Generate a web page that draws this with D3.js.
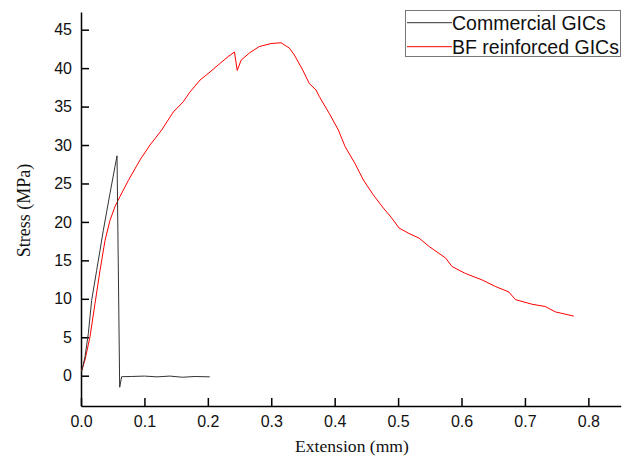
<!DOCTYPE html>
<html>
<head>
<meta charset="utf-8">
<script src="https://cdn.jsdelivr.net/npm/d3@7"></script>
<style>
  html, body { margin: 0; padding: 0; background: #fff; }
  svg { display: block; }
</style>
</head>
<body>
<svg id="chart" width="629" height="468"></svg>
<script>
// ---- data ----
const commercialX = [0.001, 0.0063, 0.0116, 0.0168, 0.0247, 0.0352, 0.0457, 0.0536, 0.0568, 0.061, 0.0641, 0.08, 0.10, 0.12, 0.14, 0.16, 0.18, 0.203];
const commercialY = [0.52, 2.47, 5.5, 9.8, 13.7, 18.9, 23.7, 27.2, 28.6, -1.5, -0.13, -0.1, -0.05, -0.15, -0.05, -0.2, -0.1, -0.15];

const bfX = [0.001, 0.0063, 0.0142, 0.0221, 0.030, 0.0379, 0.0457, 0.0536, 0.0615, 0.0747, 0.093, 0.1088, 0.1272, 0.1456, 0.161, 0.1719, 0.1877, 0.2035, 0.219, 0.232, 0.242, 0.2463, 0.2526, 0.266, 0.281, 0.2998, 0.3155, 0.3286, 0.3365, 0.3496, 0.360, 0.3706, 0.3758, 0.3915, 0.4058, 0.4164, 0.432, 0.4453, 0.461, 0.4768, 0.49, 0.5016, 0.517, 0.533, 0.549, 0.575, 0.585, 0.606, 0.6326, 0.6536, 0.6745, 0.685, 0.711, 0.732, 0.748, 0.777];
const bfY = [0.65, 2.04, 5.07, 9.4, 13.7, 17.6, 20.2, 22.0, 23.3, 25.4, 28.05, 30.0, 31.95, 34.3, 35.6, 36.9, 38.45, 39.5, 40.6, 41.5, 42.1, 39.7, 41.05, 42.0, 42.8, 43.2, 43.3, 42.6, 41.7, 39.75, 38.0, 37.15, 36.3, 34.1, 31.95, 29.8, 27.6, 25.45, 23.5, 21.8, 20.5, 19.2, 18.5, 17.9, 16.8, 15.3, 14.2, 13.3, 12.45, 11.6, 10.9, 9.9, 9.3, 9.0, 8.3, 7.75];

const xTicks = [0, 0.1, 0.2, 0.3, 0.4, 0.5, 0.6, 0.7, 0.8];
const yTicks = [0, 5, 10, 15, 20, 25, 30, 35, 40, 45];
const seriesNames = ["Commercial GICs", "BF reinforced GICs"];
const seriesColors = ["#333333", "#ff0000"];

// ---- chart ----
const svg = d3.select("#chart");
const x = d3.scaleLinear().domain([0, 0.851]).range([81, 620.7]);
const y = d3.scaleLinear().domain([-3.94, 47.3]).range([406, 12]);

const tickFont = "'Liberation Sans', Arial, sans-serif";
const titleFont = "'Liberation Serif', 'Times New Roman', serif";

const xAxis = d3.axisBottom(x).tickValues(xTicks).tickFormat(d3.format(".1f"))
  .tickSizeInner(-8).tickSizeOuter(0).tickPadding(10);
const yAxis = d3.axisLeft(y).tickValues(yTicks).tickFormat(d3.format("d"))
  .tickSizeInner(-8).tickSizeOuter(0).tickPadding(9);

const gx = svg.append("g").attr("transform", "translate(0,406)").call(xAxis);
const gy = svg.append("g").attr("transform", "translate(81,0)").call(yAxis);
[gx, gy].forEach(g => {
  g.select(".domain").attr("stroke", "#000").attr("stroke-width", 1.5);
  g.selectAll(".tick line").attr("stroke", "#000").attr("stroke-width", 1.5);
  g.selectAll(".tick text").attr("font-family", tickFont).attr("font-size", 16).attr("fill", "#111");
});

const line = d3.line().x(d => x(d[0])).y(d => y(d[1]));
const commercial = commercialX.map((v, i) => [v, commercialY[i]]);
const bf = bfX.map((v, i) => [v, bfY[i]]);

svg.append("path").datum(bf).attr("d", line)
  .attr("fill", "none").attr("stroke", seriesColors[1]).attr("stroke-width", 1);
svg.append("path").datum(commercial).attr("d", line)
  .attr("fill", "none").attr("stroke", seriesColors[0]).attr("stroke-width", 1);

// axis titles
svg.append("text").attr("x", 352).attr("y", 452).attr("text-anchor", "middle")
  .attr("font-family", titleFont).attr("font-size", 17.6).attr("fill", "#111")
  .text("Extension (mm)");
svg.append("text").attr("transform", "translate(29.5,210.5) rotate(-90)")
  .attr("text-anchor", "middle")
  .attr("font-family", titleFont).attr("font-size", 18).attr("fill", "#111")
  .text("Stress (MPa)");

// legend
const lg = svg.append("g");
lg.append("rect").attr("x", 405.5).attr("y", 10.5).attr("width", 215).attr("height", 46)
  .attr("fill", "#fff").attr("stroke", "#777").attr("stroke-width", 1);
seriesNames.forEach((name, i) => {
  const cy = 22.7 + i * 24;
  lg.append("line").attr("x1", 407).attr("x2", 452).attr("y1", cy).attr("y2", cy)
    .attr("stroke", seriesColors[i]).attr("stroke-width", 1);
  lg.append("text").attr("x", 452).attr("y", cy + 7)
    .attr("font-family", tickFont).attr("font-size", 19.5).attr("fill", "#111")
    .text(name);
});
</script>
</body>
</html>
